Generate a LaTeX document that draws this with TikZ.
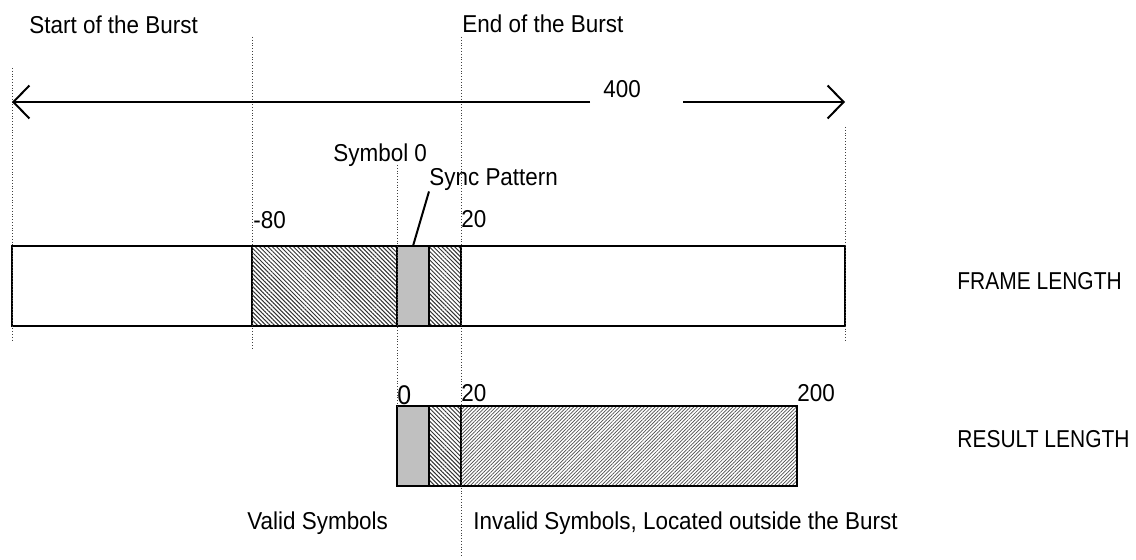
\documentclass[tikz,border=0pt]{standalone}
\usepackage{fontspec}
\setmainfont[FakeStretch=0.92]{Liberation Sans}
\newfontfamily\capsfont[FakeStretch=0.86]{Liberation Sans}
\usepackage{tikz}
\usetikzlibrary{positioning,arrows.meta,patterns.meta}
\definecolor{symgray}{HTML}{C0C0C0}

\begin{document}
\begin{tikzpicture}[
  x=0.5pt,y=-0.5pt,
  font=\fontsize{12.2}{14}\selectfont,
  seg/.style={draw,line width=1pt,minimum height=40pt,inner sep=0pt,outer sep=0pt},
  plain/.style={seg,fill=white},
  sym/.style={seg,fill=symgray},
  hatch/.style={seg,pattern={Lines[angle=-45,distance=1.5pt,line width=0.5pt]},pattern color=black!80},
  hatchlt/.style={seg,pattern={Lines[angle=45,distance=1.25pt,line width=0.35pt]},pattern color=black!70},
  guide/.style={line width=0.4pt,densely dotted,black!75},
  arr/.style={-{Straight Barb[length=8pt,width=16.5pt,line width=1pt]},line width=1pt},
  lbl/.style={anchor=base west,inner sep=0pt},
  side/.style={lbl,font=\capsfont\fontsize{12.2}{14}\selectfont}
]
\useasboundingbox (0,0) rectangle (1136,560);
% frame bar
\node[plain,minimum width=120pt] (f1) at (132,286) {};
\node[hatch,minimum width=72.5pt,right=0pt of f1] (f2) {};
\node[sym,minimum width=16pt,right=0pt of f2] (f3) {};
\node[hatch,minimum width=16pt,right=0pt of f3] (f4) {};
\node[plain,minimum width=192pt,right=0pt of f4] (f5) {};
% result bar
\node[sym,minimum width=16pt] (r1) at (413,446) {};
\node[hatch,minimum width=16pt,right=0pt of r1] (r2) {};
\node[hatchlt,minimum width=168pt,right=0pt of r2] (r3) {};
% guides
\draw[guide] (12,68) -- (12,342);
\draw[guide] (252,37) -- (252,350);
\draw[guide] (397,165) -- (397,406);
\draw[guide] (461,37) -- (461,556);
\draw[guide] (845,127) -- (845,342);
% labels
\node[lbl] (start) at (29,34) {Start of the Burst};
\node[lbl] (end) at (462,33) {End of the Burst};
\node[lbl] (len) at (603,98) {400};
\node[lbl] (sym0) at (333,162) {Symbol 0};
\node[lbl] (sync) at (429,186) {Sync Pattern};
\node[lbl] (m80) at (253,229) {-80};
\node[lbl] (p20) at (461,228) {20};
\node[lbl,font=\fontsize{13.5}{15}\selectfont] (r0) at (397,405) {0};
\node[lbl] (r20) at (461,402) {20};
\node[lbl] (r200) at (797,402) {200};
\node[side] (frame) at (957,290) {FRAME LENGTH};
\node[side] (result) at (957,448) {RESULT LENGTH};
\node[lbl] (valid) at (247,530) {Valid Symbols};
\node[lbl] (invalid) at (473,530) {Invalid Symbols, Located outside the Burst};
% dimension arrow
\coordinate (al) at (12,102);
\coordinate (ar) at (845,102);
\coordinate (gapl) at (590,102);
\coordinate (gapr) at (683,102);
\draw[arr] (gapl) -- (al);
\draw[arr] (gapr) -- (ar);
% pointer
\draw[line width=1pt] (sync.south west) -- (f3.north);
\end{tikzpicture}
\end{document}
